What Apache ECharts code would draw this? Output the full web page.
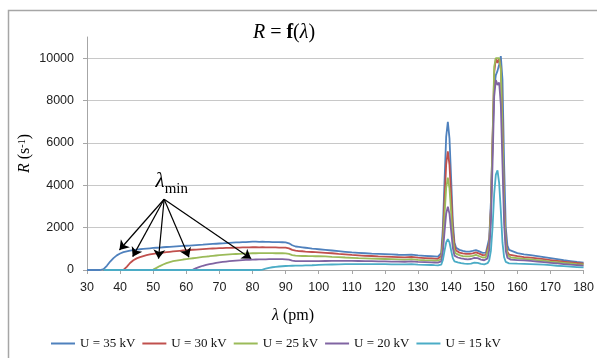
<!DOCTYPE html>
<html><head><meta charset="utf-8">
<script src="https://cdn.jsdelivr.net/npm/echarts@6/dist/echarts.min.js"></script>
<style>html,body{margin:0;padding:0;background:#fff}#c{width:597px;height:358px}</style>
</head><body><div id="c"></div>
<script>
// wavelength (pm)
const lambda = [
 30,31,32,33,34,35,36,37,38,39,40,41,42,43,44,45,46,47,48,49,50,51,52,53,54,55,56,57,58,59,
 60,61,62,63,64,65,66,67,68,69,70,71,72,73,74,75,76,77,78,79,80,81,82,83,84,85,86,87,88,89,
 90,91,92,93,94,95,96,97,98,99,100,
 102,104,106,108,110,112,114,116,118,120,122,124,126,128,130,132,134,
 134.5,135,135.5,136,136.5,137,137.5,138,138.5,139,139.5,140,140.5,141,141.5,142,142.5,143,143.5,144,
 144.5,145,145.5,146,146.5,147,147.5,148,148.5,149,149.5,150,150.5,151,151.5,152,152.5,153,153.5,154,
 154.5,155,155.5,156,156.5,157,157.5,158,
 160,162,164,166,168,170,172,174,176,178,180
];
const u35 = [
 0,0,0,0,0, 40,200,400,560,690, 780,840,880,910,940, 960,980,995,1010,1025,
 1040,1050,1060,1075,1085, 1095,1105,1115,1125,1135, 1145,1155,1165,1175,1185, 1195,1210,1220,1230,1240,
 1250,1260,1270,1280,1290, 1300,1305,1315,1320,1330, 1340,1340,1330,1335,1330, 1325,1320,1320,1315,1310,
 1300,1260,1170,1110,1090, 1070,1050,1030,1010,995, 980,
 950,920,890,860,830,810,790,770,760,750,740,720,710,730,690,670,650,
 645,640,635,630,660, 800,2000,4200,6300,7000, 6200,4300,2300,1300,1050, 980,950,920,900,880,
 870,865,870,880,900, 930,940,920,880,840, 810,800,820,900,1500, 3200,6000,8600,9200,9400,
 9700,10100,9000,5000,2000, 1150,950,870,
 800,740,700,660,610,560,510,460,420,380,350
];
const u30 = [
 null,null,null,null,null, 0,0,0,0,0, 0,0,150,330,460, 550,610,660,700,735,
 765,785,805,825,845, 860,875,890,905,920, 935,945,955,965,975, 985,995,1005,1015,1020,
 1030,1035,1040,1045,1050, 1055,1060,1065,1070,1070, 1075,1075,1070,1075,1070, 1070,1065,1065,1060,1060,
 1055,1020,950,910,895, 885,870,860,850,840, 830,
 810,790,760,740,710,690,670,660,640,630,620,610,600,620,580,565,550,
 545,540,535,530,550, 660,1550,3300,5000,5600, 4950,3500,1900,1150,920, 850,820,800,780,770,
 760,755,760,770,790, 820,830,810,770,730, 700,690,710,800,1300, 2900,6200,9300,10000,9780,
 10000,9500,7000,3200,1400, 850,730,690,
 650,610,580,550,510,470,430,390,360,330,300
];
const u25 = [
 null,null,null,null,null, 0,0,0,0,0, 0,0,0,0,0, 0,0,0,0,0,
 20,100,185,260,325, 375,415,445,470,495, 515,535,555,575,595, 615,635,650,670,685,
 700,715,725,735,745, 755,765,770,780,785, 790,790,795,795,800, 795,795,790,790,790,
 785,760,705,675,665, 660,660,655,655,650, 650,
 640,620,610,590,575,560,550,540,530,520,510,500,490,510,475,460,450,
 448,445,442,440,455, 520,1250,2600,3880,4360, 3850,2700,1500,900,770, 720,700,680,660,650,
 640,635,640,650,670, 700,710,690,650,610, 590,580,600,680,1150, 2700,6000,9600,10000,10000,
 10000,9500,6500,2800,1200, 720,630,590,
 560,530,500,470,440,400,370,340,310,280,260
];
const u20 = [
 null,null,null,null,null, 0,0,0,0,0, 0,0,0,0,0, 0,0,0,0,0,
 0,0,0,0,0, 0,0,0,0,0, 0,0,20,90,150, 200,240,275,305,335,
 360,380,400,415,430, 445,455,465,475,485, 490,495,500,505,505, 510,510,510,510,510,
 505,485,440,420,415, 415,415,415,418,420, 420,
 425,430,430,430,430,425,420,415,410,405,400,395,390,405,380,370,360,
 358,355,352,350,365, 410,880,1800,2670,2990, 2650,1850,1050,680,620, 590,570,550,530,520,
 510,505,510,520,540, 570,580,560,520,490, 470,460,480,550,950, 2200,5000,8200,8970,8740,
 8850,7800,5000,2200,900, 580,510,490,
 470,450,430,400,370,340,310,280,250,230,210
];
const u15 = [
 null,null,null,null,null, 0,0,0,0,0, 0,0,0,0,0, 0,0,0,0,0,
 0,0,0,0,0, 0,0,0,0,0, 0,0,0,0,0, 0,0,0,0,0,
 0,0,0,0,0, 0,0,0,0,0, 0,0,0,20,60, 100,130,150,165,178,
 188,195,200,203,206, 210,215,220,225,232, 240,
 250,260,270,275,280,280,280,280,278,275,270,268,265,275,255,245,235,
 232,228,225,222,228, 250,470,900,1300,1460, 1300,920,560,410,380, 360,340,320,305,300,
 295,290,295,300,320, 350,360,340,310,290, 275,270,280,320,450, 900,2000,3600,4500,4700,
 4100,2800,1300,600,380, 330,315,310,
 300,290,280,270,250,230,200,180,160,140,120
];
const seriesNames = ['U = 35 kV','U = 30 kV','U = 25 kV','U = 20 kV','U = 15 kV'];
const seriesData = [u35,u30,u25,u20,u15];
const colors = ['#4F81BD','#C0504D','#9BBB59','#8064A2','#4BACC6'];
// annotation (data coordinates): lambda_min arrows
const arrowFrom = [53.3, 3340];
const arrowTips = [[39.8,945],[43.8,630],[51.6,535],[60.8,600],[79.6,535]];
const labelAt = [55.6, 4060];

const pair = ys => lambda.map((x,i) => [x, ys[i]]);
const serif = 'Liberation Serif';
const chart = echarts.init(document.getElementById('c'), null, {renderer:'canvas'});
const series = seriesNames.map((n,k) => ({
  type:'line', name:n, data:pair(seriesData[k]), symbol:'none', showSymbol:false,
  lineStyle:{width:1.8,color:colors[k]}, itemStyle:{color:colors[k]},
  emphasis:{disabled:true}, silent:true, z:2+k
}));
series[0].markLine = {
  silent:true, symbol:['none','arrow'], symbolSize:9, animation:false,
  lineStyle:{color:'#000',width:1.2,type:'solid'}, itemStyle:{color:'#000'}, label:{show:false}, emphasis:{disabled:true},
  data: arrowTips.map(t => [{coord:arrowFrom},{coord:t}])
};
series[0].markPoint = {
  silent:true, symbol:'circle', symbolSize:0, animation:false,
  data:[{coord:labelAt}],
  label:{show:true, position:'inside', formatter:'{l|λ}{s|min}',
    rich:{l:{fontFamily:serif,fontSize:21,fontStyle:'italic',color:'#000',verticalAlign:'bottom',padding:[0,0,5,0]},
          s:{fontFamily:serif,fontSize:15,color:'#000',verticalAlign:'bottom'}}}
};
chart.setOption({
  animation:false,
  backgroundColor:'#fff',
  grid:{left:87,right:10,top:37,bottom:88},
  xAxis:{type:'value',min:30,max:180,interval:10,
    axisLine:{show:true,onZero:false,lineStyle:{color:'#a6a6a6',width:1}},
    axisTick:{show:true,length:4,lineStyle:{color:'#a6a6a6'}},
    axisLabel:{color:'#222',fontFamily:'Liberation Sans',fontSize:12.5,margin:11},
    splitLine:{show:false}},
  yAxis:{type:'value',min:0,max:11000,interval:2000,
    axisLine:{show:true,lineStyle:{color:'#a6a6a6',width:1}},
    axisTick:{show:true,length:4,lineStyle:{color:'#a6a6a6'}},
    axisLabel:{color:'#222',fontFamily:'Liberation Sans',fontSize:12.5,margin:13,showMaxLabel:false,
      formatter:v => v > 10000 ? '' : String(v)},
    splitLine:{show:true,showMaxLine:false,lineStyle:{color:'#c8c8c8',width:1}},
    name:'{i|R}{n| (s}{sup|-1}{n|)}', nameLocation:'middle', nameRotate:90, nameGap:54,
    nameMoveOverlap:false,
    nameTextStyle:{rich:{
      i:{fontFamily:serif,fontSize:16,fontStyle:'italic',color:'#000'},
      n:{fontFamily:serif,fontSize:16,color:'#000'},
      sup:{fontFamily:serif,fontSize:10,color:'#000',verticalAlign:'top'}}}},
  legend:{left:46,top:332,itemWidth:24,itemHeight:2,itemGap:7,icon:'rect',data:seriesNames,
    textStyle:{fontFamily:serif,fontSize:13,color:'#111'}},
  graphic:[
    {type:'rect',silent:true,shape:{x:8.5,y:10.5,width:700,height:400},
      style:{fill:'none',stroke:'#a6a6a6',lineWidth:1.5}},
    {type:'text',silent:true,x:284,y:33,style:{
      text:'{i|R}{n| = }{b|f}{n|(}{i|λ}{n|)}', align:'center', verticalAlign:'middle',
      rich:{i:{fontFamily:serif,fontSize:20,fontStyle:'italic',fill:'#000'},
            n:{fontFamily:serif,fontSize:20,fill:'#000'},
            b:{fontFamily:serif,fontSize:20,fontWeight:'bold',fill:'#000'}}}},
    {type:'text',silent:true,x:293,y:316,style:{
      text:'{i|λ}{n| (pm)}', align:'center', verticalAlign:'middle',
      rich:{i:{fontFamily:serif,fontSize:16,fontStyle:'italic',fill:'#000'},
            n:{fontFamily:serif,fontSize:16,fill:'#000'}}}}
  ],
  series:series
});
</script></body></html>
